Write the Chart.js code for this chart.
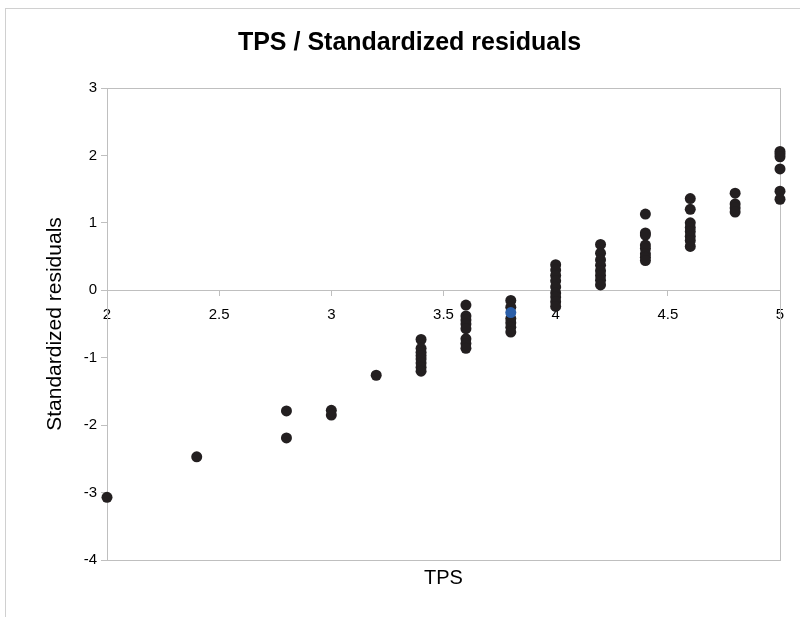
<!DOCTYPE html>
<html>
<head>
<meta charset="utf-8">
<script src="https://cdn.jsdelivr.net/npm/chart.js@4/dist/chart.umd.min.js"></script>
<style>
  html, body { margin: 0; padding: 0; background: #fff; }
  #wrap { position: relative; width: 800px; height: 617px; }
  #frame { position: absolute; left: 5px; top: 8px; right: 0; bottom: 0;
           border-left: 1px solid #d0d0d0; border-top: 1px solid #d0d0d0; pointer-events: none; }
  canvas { position: absolute; left: 0; top: 0; }
</style>
</head>
<body>
<div id="wrap">
  <canvas id="chart" width="800" height="617"></canvas>
  <div id="frame"></div>
</div>
<script>
// TPS level for each observation and its standardized residual
const tps = [
  2, 2.4, 2.8, 2.8, 3, 3, 3.2,
  3.4, 3.4, 3.4, 3.4, 3.4, 3.4, 3.4, 3.4,
  3.6, 3.6, 3.6, 3.6, 3.6, 3.6, 3.6, 3.6,
  3.8, 3.8, 3.8, 3.8, 3.8, 3.8,
  4, 4, 4, 4, 4, 4, 4, 4, 4,
  4.2, 4.2, 4.2, 4.2, 4.2, 4.2, 4.2, 4.2,
  4.4, 4.4, 4.4, 4.4, 4.4, 4.4, 4.4, 4.4,
  4.6, 4.6, 4.6, 4.6, 4.6, 4.6, 4.6, 4.6,
  4.8, 4.8, 4.8, 4.8,
  5, 5, 5, 5, 5, 5
];
const residuals = [
  -3.07, -2.47, -1.79, -2.19, -1.78, -1.85, -1.26,
  -0.73, -0.86, -0.92, -0.97, -1.02, -1.08, -1.14, -1.2,
  -0.22, -0.38, -0.44, -0.5, -0.57, -0.72, -0.79, -0.86,
  -0.15, -0.25, -0.42, -0.48, -0.55, -0.62,
  0.38, 0.3, 0.22, 0.14, 0.05, -0.04, -0.1, -0.17, -0.24,
  0.68, 0.55, 0.45, 0.37, 0.29, 0.22, 0.15, 0.08,
  1.13, 0.85, 0.82, 0.67, 0.62, 0.54, 0.49, 0.44,
  1.36, 1.2, 1.0, 0.93, 0.87, 0.8, 0.74, 0.65,
  1.44, 1.28, 1.22, 1.16,
  2.06, 2.02, 1.98, 1.8, 1.47, 1.35
];
// the one highlighted observation
const highlightTps = [3.8];
const highlightResidual = [-0.33];

const axisColor = '#bfbfbf';
const fontFamily = '"Liberation Sans", Arial, sans-serif';

// box round the plot area
const plotBorder = {
  id: 'plotBorder',
  beforeDatasetsDraw(chart) {
    const { ctx, chartArea: a } = chart;
    ctx.save();
    ctx.strokeStyle = axisColor;
    ctx.lineWidth = 1;
    ctx.strokeRect(a.left + 0.5, a.top + 0.5, a.right - a.left, a.bottom - a.top);
    ctx.restore();
  }
};

const ctx = document.getElementById('chart').getContext('2d');
new Chart(ctx, {
  type: 'scatter',
  data: {
    datasets: [
      {
        data: tps.map((x, i) => ({ x: x, y: residuals[i] })),
        backgroundColor: '#231f20',
        borderWidth: 0,
        pointRadius: 5.5,
        pointHoverRadius: 5.5,
        clip: false,
        order: 2
      },
      {
        data: highlightTps.map((x, i) => ({ x: x, y: highlightResidual[i] })),
        backgroundColor: '#2a5ea8',
        borderWidth: 0,
        pointRadius: 5.5,
        pointHoverRadius: 5.5,
        clip: false,
        order: 1
      }
    ]
  },
  plugins: [plotBorder],
  options: {
    responsive: false,
    animation: false,
    layout: { padding: { left: 39, right: 20, top: 0, bottom: 23 } },
    plugins: {
      legend: { display: false },
      tooltip: { enabled: false },
      title: {
        display: true,
        text: 'TPS / Standardized residuals',
        color: '#000',
        font: { family: fontFamily, size: 25, weight: 'bold' },
        padding: { top: 28, bottom: 30 }
      }
    },
    scales: {
      x: {
        type: 'linear',
        position: { y: 0 },
        min: 2,
        max: 5,
        ticks: {
          stepSize: 0.5, color: '#000', padding: 11,
          font: { family: fontFamily, size: 15 },
          callback: v => String(+v.toFixed(1))
        },
        grid: { display: true, drawOnChartArea: false, drawTicks: true, tickLength: 5, color: axisColor },
        border: { display: true, color: axisColor }
      },
      // carries only the axis title under the plot
      xTitle: {
        type: 'linear',
        axis: 'x',
        position: 'bottom',
        ticks: { display: false },
        grid: { display: false, drawTicks: false },
        border: { display: false },
        title: {
          display: true,
          text: 'TPS',
          color: '#000',
          font: { family: fontFamily, size: 20 },
          padding: { top: 6, bottom: 4 }
        }
      },
      y: {
        type: 'linear',
        min: -4,
        max: 3,
        afterFit(scale) { scale.width = 68; },
        ticks: { stepSize: 1, color: '#000', padding: 4, font: { family: fontFamily, size: 15 } },
        grid: { display: true, drawOnChartArea: false, drawTicks: true, tickLength: 6, color: axisColor },
        border: { display: true, color: axisColor },
        title: {
          display: true,
          text: 'Standardized residuals',
          color: '#000',
          font: { family: fontFamily, size: 21 },
          padding: { top: 4, bottom: 0 }
        }
      }
    }
  }
});
</script>
</body>
</html>
